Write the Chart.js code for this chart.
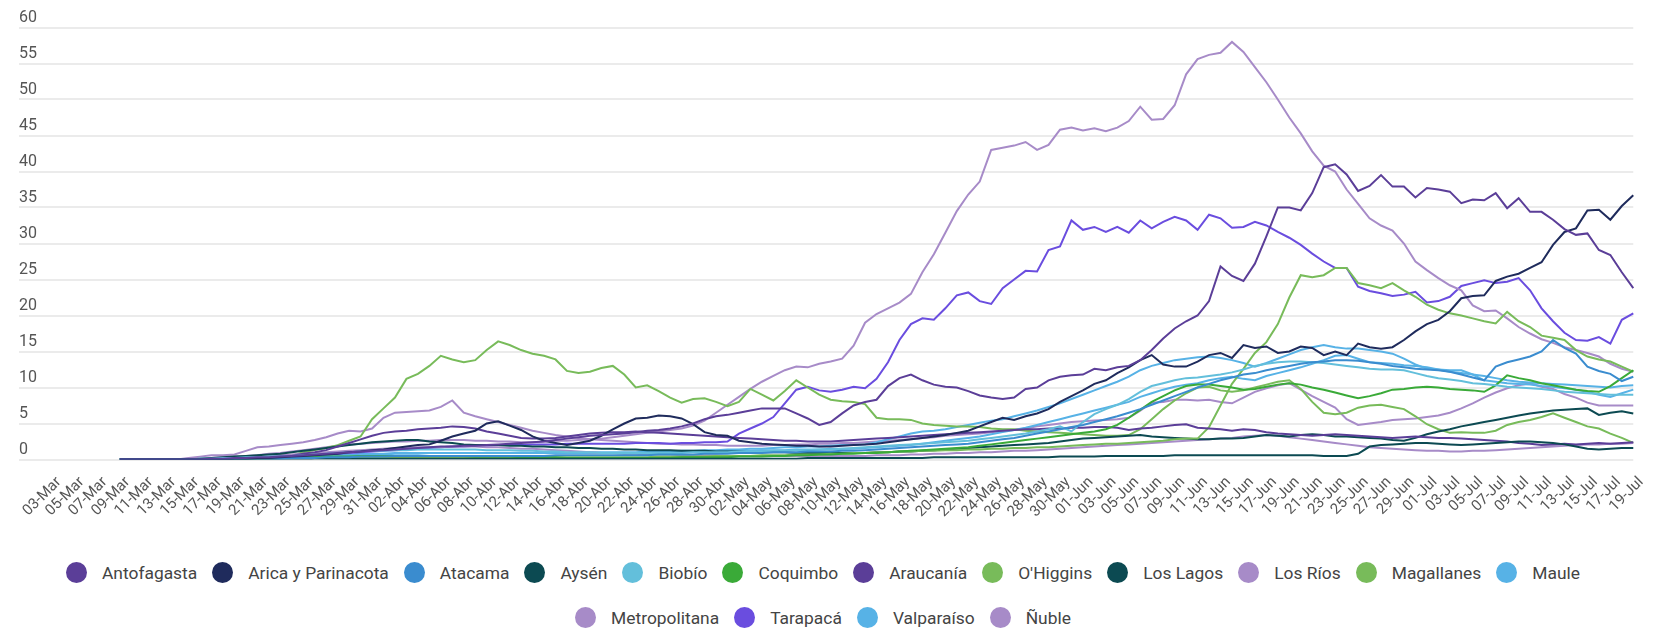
<!DOCTYPE html>
<html>
<head>
<meta charset="utf-8">
<script src="https://cdn.jsdelivr.net/npm/chart.js@4.4.1/dist/chart.umd.min.js"></script>
<style>
    html, body { margin: 0; padding: 0; background: #fff; }
    body { width: 1660px; height: 629px; position: relative; overflow: hidden; }
    #myChart { position: absolute; left: 0; top: 0; }
    #legend {
        position: absolute; top: 550px; left: 43px; width: 1560px;
        display: flex; flex-wrap: wrap; justify-content: center; column-gap: 15px;
        font-family: Roboto, sans-serif; font-size: 17.4px; color: #444;
    }
    #legend .item { display: flex; align-items: center; height: 45px; white-space: nowrap; }
    #legend .dot { width: 21px; height: 21px; border-radius: 50%; margin-right: 15px; }
</style>
</head>
<body>
<canvas id="myChart" width="1660" height="548"></canvas>
<div id="legend"></div>
<script>
// Dates on the x axis (03-Mar .. 19-Jul)
const dates = [
    '03-Mar','04-Mar','05-Mar','06-Mar','07-Mar','08-Mar','09-Mar','10-Mar','11-Mar','12-Mar',
    '13-Mar','14-Mar','15-Mar','16-Mar','17-Mar','18-Mar','19-Mar','20-Mar','21-Mar','22-Mar',
    '23-Mar','24-Mar','25-Mar','26-Mar','27-Mar','28-Mar','29-Mar','30-Mar','31-Mar',
    '01-Abr','02-Abr','03-Abr','04-Abr','05-Abr','06-Abr','07-Abr','08-Abr','09-Abr','10-Abr',
    '11-Abr','12-Abr','13-Abr','14-Abr','15-Abr','16-Abr','17-Abr','18-Abr','19-Abr','20-Abr',
    '21-Abr','22-Abr','23-Abr','24-Abr','25-Abr','26-Abr','27-Abr','28-Abr','29-Abr','30-Abr',
    '01-May','02-May','03-May','04-May','05-May','06-May','07-May','08-May','09-May','10-May',
    '11-May','12-May','13-May','14-May','15-May','16-May','17-May','18-May','19-May','20-May',
    '21-May','22-May','23-May','24-May','25-May','26-May','27-May','28-May','29-May','30-May','31-May',
    '01-Jun','02-Jun','03-Jun','04-Jun','05-Jun','06-Jun','07-Jun','08-Jun','09-Jun','10-Jun',
    '11-Jun','12-Jun','13-Jun','14-Jun','15-Jun','16-Jun','17-Jun','18-Jun','19-Jun','20-Jun',
    '21-Jun','22-Jun','23-Jun','24-Jun','25-Jun','26-Jun','27-Jun','28-Jun','29-Jun','30-Jun',
    '01-Jul','02-Jul','03-Jul','04-Jul','05-Jul','06-Jul','07-Jul','08-Jul','09-Jul','10-Jul',
    '11-Jul','12-Jul','13-Jul','14-Jul','15-Jul','16-Jul','17-Jul','18-Jul','19-Jul'
];

const yTicks = [0, 5, 10, 15, 20, 25, 30, 35, 40, 45, 50, 55, 60];

const antofagasta = [null,null,null,null,null,null,
    0,0,0,0,
    0,0,0,0,0.1,0.1,0.2,0.2,0.3,0.3,
    0.4,0.5,0.6,0.7,0.8,0.9,1.0,1.1,1.2,1.3,
    1.4,1.5,1.6,1.7,1.8,1.8,1.9,1.9,2.0,2.1,
    2.2,2.3,2.4,2.5,2.7,2.9,3.1,3.3,3.4,3.5,
    3.6,3.8,4.0,4.1,4.3,4.6,5.0,5.6,6.0,6.2,
    6.5,6.8,7.1,7.1,7.1,6.4,5.7,4.8,5.2,6.4,
    7.5,8.0,8.3,10.2,11.3,11.8,11.0,10.4,10.1,10.0,
    9.5,8.9,8.6,8.4,8.6,9.8,10.0,11.0,11.5,11.7,
    11.8,12.6,12.4,12.8,13.0,13.8,15.2,16.8,18.2,19.2,
    20.0,22.0,26.8,25.5,24.8,27.2,31.0,35.0,35.0,34.6,
    37.0,40.6,41.0,39.6,37.3,38.0,39.5,37.9,37.9,36.4,
    37.7,37.5,37.2,35.6,36.1,36.0,37.0,34.9,36.3,34.4,
    34.4,33.3,32.0,31.2,31.4,29.1,28.4,26.0,23.8];

const arica = [null,null,null,null,null,null,
    0,0,0,0,
    0,0,0,0,0,0,0.1,0.1,0.2,0.2,
    0.3,0.4,0.5,0.6,0.7,0.8,1.0,1.1,1.3,1.4,
    1.6,1.8,2.0,2.1,2.6,3.2,3.6,4.0,5.0,5.3,
    4.7,4.1,3.2,2.6,2.3,2.0,2.3,2.6,3.3,4.2,
    5.0,5.7,5.8,6.1,6.0,5.7,4.9,3.8,3.4,3.3,
    2.6,2.4,2.2,2.1,2.0,1.9,1.9,1.8,1.8,1.9,
    2.0,2.1,2.2,2.4,2.6,2.8,3.0,3.2,3.4,3.7,
    4.0,4.6,5.2,5.8,5.5,6.0,6.4,7.0,8.0,8.8,
    9.6,10.5,11.0,12.0,12.8,13.8,14.5,13.2,12.9,12.9,
    13.6,14.5,14.8,14.1,15.9,15.5,15.7,14.8,15.0,15.7,
    15.5,14.5,15.0,14.5,16.1,15.6,15.4,15.6,16.6,17.8,
    18.8,19.4,20.6,22.4,22.7,22.8,24.8,25.4,25.8,26.6,
    27.4,29.8,31.6,32.1,34.6,34.7,33.3,35.2,36.7];

const atacama = [null,null,null,null,null,null,
    0,0,0,0,
    0,0,0,0,0,0,0,0.1,0.1,0.1,
    0.1,0.2,0.2,0.2,0.3,0.3,0.3,0.4,0.4,0.4,
    0.5,0.5,0.5,0.5,0.5,0.5,0.5,0.5,0.5,0.5,
    0.5,0.5,0.5,0.5,0.6,0.6,0.6,0.6,0.6,0.6,
    0.6,0.6,0.6,0.7,0.7,0.7,0.7,0.8,0.8,0.8,
    0.9,0.9,0.9,1.0,1.0,1.0,1.1,1.1,1.1,1.2,
    1.2,1.3,1.4,1.5,1.6,1.7,1.8,1.9,2.0,2.1,
    2.2,2.4,2.6,2.8,3.0,3.3,3.6,3.9,4.2,4.5,
    4.8,5.2,5.6,6.0,6.5,7.0,7.6,8.2,8.8,9.4,
    10.0,10.5,11.0,11.4,11.8,12.0,12.4,12.7,13.0,13.3,
    13.5,13.6,13.8,13.8,13.7,13.5,13.3,13.0,12.8,12.6,
    12.5,12.4,12.2,11.8,11.4,11.0,12.9,13.5,13.9,14.3,
    15.0,16.6,15.5,14.7,12.9,12.3,11.9,10.9,11.5];

const aysen = [null,null,null,null,null,null,
    0,0,0,0,
    0,0,0,0,0,0,0,0,0,0,
    0,0,0,0.1,0.1,0.1,0.1,0.1,0.1,0.1,
    0.1,0.1,0.1,0.1,0.1,0.1,0.1,0.1,0.1,0.1,
    0.1,0.1,0.1,0.1,0.1,0.1,0.1,0.1,0.1,0.1,
    0.1,0.1,0.1,0.1,0.1,0.1,0.1,0.1,0.1,0.1,
    0.1,0.1,0.1,0.1,0.1,0.1,0.2,0.2,0.2,0.2,
    0.2,0.2,0.2,0.2,0.2,0.2,0.2,0.3,0.3,0.3,
    0.3,0.3,0.3,0.3,0.3,0.3,0.3,0.3,0.4,0.4,
    0.4,0.4,0.5,0.5,0.5,0.5,0.5,0.5,0.6,0.6,
    0.6,0.6,0.6,0.6,0.6,0.6,0.6,0.6,0.6,0.6,
    0.6,0.5,0.5,0.5,0.8,1.8,2.0,2.1,2.2,2.3,
    2.3,2.2,2.1,2.0,2.1,2.2,2.3,2.4,2.5,2.5,
    2.4,2.3,2.1,1.8,1.5,1.4,1.5,1.6,1.6];

const biobio = [null,null,null,null,null,null,
    0,0,0,0,
    0,0,0,0.1,0.1,0.2,0.2,0.3,0.3,0.4,
    0.4,0.5,0.6,0.7,0.8,0.9,1.0,1.1,1.2,1.2,
    1.3,1.3,1.4,1.4,1.4,1.4,1.4,1.4,1.3,1.3,
    1.3,1.2,1.2,1.1,1.1,1.0,1.0,1.0,0.9,0.9,
    0.9,0.9,0.9,0.9,0.9,0.9,1.0,1.0,1.0,1.0,
    1.1,1.1,1.1,1.2,1.2,1.3,1.3,1.4,1.4,1.5,
    1.6,1.7,1.8,1.9,2.0,2.1,2.2,2.3,2.4,2.5,
    2.6,2.8,3.0,3.2,3.4,3.6,3.9,4.2,4.6,3.9,
    5.2,6.3,7.0,7.6,8.4,9.4,10.2,10.6,11.0,11.3,
    11.4,11.6,11.8,12.1,12.5,13.0,13.3,13.5,13.6,13.6,
    13.5,13.4,13.2,13.0,12.8,12.6,12.5,12.5,12.4,12.0,
    11.6,11.3,11.1,10.9,10.6,10.5,10.3,10.1,10.0,9.9,
    9.8,9.6,9.4,9.3,9.2,9.1,9.0,9.0,9.0];

const coquimbo = [null,null,null,null,null,null,
    0,0,0,0,
    0,0,0,0,0,0.1,0.1,0.1,0.2,0.2,
    0.2,0.3,0.3,0.3,0.4,0.4,0.4,0.5,0.5,0.5,
    0.5,0.5,0.5,0.5,0.5,0.5,0.5,0.4,0.4,0.4,
    0.4,0.3,0.3,0.3,0.3,0.2,0.2,0.2,0.2,0.2,
    0.2,0.2,0.2,0.2,0.2,0.3,0.3,0.3,0.3,0.3,
    0.4,0.4,0.4,0.5,0.5,0.6,0.6,0.7,0.7,0.8,
    0.8,0.9,0.9,1.0,1.1,1.2,1.3,1.4,1.5,1.6,
    1.7,1.9,2.1,2.3,2.5,2.7,2.9,3.1,3.3,3.5,
    3.7,3.9,4.2,4.8,5.8,6.9,8.0,8.8,9.6,10.2,
    10.4,10.4,10.2,10.0,9.7,9.8,10.1,10.4,10.6,10.4,
    10.0,9.7,9.3,8.9,8.5,8.8,9.2,9.7,9.8,10.0,
    10.1,10.0,9.8,9.7,9.6,9.4,10.3,11.7,11.3,11.0,
    10.6,10.3,10.0,9.7,9.5,9.4,10.2,11.3,12.4];

const araucania = [null,null,null,null,null,null,
    0,0,0,0,
    0,0,0,0,0.1,0.1,0.2,0.2,0.3,0.3,
    0.4,0.5,0.8,1.0,1.3,1.8,2.3,2.8,3.3,3.7,
    3.9,4.0,4.2,4.3,4.4,4.6,4.5,4.3,3.9,3.6,
    3.3,3.0,2.9,2.9,3.0,3.2,3.4,3.6,3.7,3.8,
    3.8,3.9,3.8,3.7,3.6,3.5,3.4,3.3,3.2,3.1,
    3.0,2.9,2.8,2.7,2.6,2.6,2.5,2.5,2.5,2.6,
    2.7,2.8,2.9,3.0,3.1,3.2,3.3,3.4,3.5,3.6,
    3.7,3.8,3.9,4.0,4.1,4.2,4.2,4.3,4.3,4.4,
    4.4,4.5,4.5,4.4,4.1,4.3,4.4,4.6,4.8,4.9,
    4.4,4.3,4.2,4.0,4.2,4.1,3.8,3.6,3.5,3.4,
    3.3,3.4,3.5,3.4,3.3,3.2,3.1,3.0,3.1,3.2,
    3.1,3.0,3.0,2.9,2.8,2.7,2.6,2.5,2.3,2.2,
    2.0,2.1,2.2,2.1,2.2,2.3,2.2,2.3,2.4];

const ohiggins = [null,null,null,null,null,null,
    0,0,0,0,
    0,0,0,0,0,0,0.1,0.1,0.1,0.1,
    0.2,0.2,0.2,0.2,0.3,0.3,0.3,0.3,0.3,0.3,
    0.3,0.3,0.3,0.3,0.3,0.3,0.3,0.3,0.3,0.3,
    0.3,0.3,0.3,0.3,0.3,0.3,0.3,0.3,0.3,0.3,
    0.3,0.3,0.3,0.4,0.4,0.4,0.4,0.4,0.5,0.5,
    0.5,0.5,0.6,0.6,0.6,0.7,0.7,0.7,0.8,0.8,
    0.9,0.9,1.0,1.0,1.1,1.1,1.2,1.2,1.3,1.3,
    1.4,1.4,1.5,1.5,1.6,1.6,1.7,1.7,1.8,1.9,
    2.0,2.1,2.2,2.2,2.3,2.4,2.5,2.6,2.8,2.9,
    2.9,4.5,7.5,10.5,12.6,14.8,16.3,18.8,22.5,25.6,
    25.3,25.6,26.6,26.6,24.5,24.2,23.8,24.5,23.5,22.6,
    21.5,20.8,20.3,20.0,19.6,19.2,18.9,20.5,19.2,18.4,
    17.2,16.9,16.6,15.2,14.3,13.9,13.6,12.9,12.2];

const losLagos = [null,null,null,null,null,null,
    0,0,0,0,
    0,0,0,0.1,0.2,0.3,0.4,0.5,0.6,0.7,
    0.8,1.0,1.2,1.4,1.6,1.8,2.0,2.2,2.4,2.5,
    2.6,2.7,2.7,2.5,2.4,2.3,2.1,2.0,2.0,2.0,
    1.9,1.9,1.8,1.8,1.7,1.7,1.6,1.6,1.5,1.5,
    1.4,1.4,1.3,1.3,1.3,1.2,1.2,1.2,1.1,1.1,
    1.1,1.0,1.0,1.0,1.0,0.9,0.9,0.9,0.9,0.9,
    0.9,0.9,1.0,1.0,1.1,1.1,1.2,1.3,1.4,1.5,
    1.6,1.7,1.8,1.9,2.0,2.1,2.2,2.3,2.5,2.7,
    2.9,3.0,3.1,3.2,3.3,3.4,3.2,3.1,3.0,2.9,
    2.8,2.8,2.9,2.9,3.0,3.2,3.4,3.3,3.2,3.4,
    3.5,3.4,3.2,3.2,3.1,3.0,2.9,2.7,2.6,3.0,
    3.5,3.9,4.2,4.6,4.9,5.2,5.5,5.8,6.1,6.4,
    6.6,6.8,6.9,7.0,7.1,6.2,6.5,6.7,6.4];

const losRios = [null,null,null,null,null,null,
    0,0,0,0,
    0,0,0,0,0.1,0.1,0.2,0.3,0.4,0.5,
    0.6,0.7,0.8,0.9,1.0,1.1,1.2,1.3,1.4,1.5,
    1.6,1.6,1.7,1.7,1.7,1.8,1.8,1.8,1.7,1.7,
    1.6,1.5,1.5,1.4,1.3,1.2,1.1,1.0,0.9,0.9,
    0.8,0.8,0.7,0.7,0.7,0.6,0.6,0.6,0.6,0.5,
    0.5,0.5,0.5,0.5,0.5,0.5,0.5,0.5,0.5,0.5,
    0.5,0.5,0.6,0.6,0.6,0.7,0.7,0.8,0.8,0.9,
    0.9,1.0,1.0,1.1,1.2,1.2,1.3,1.4,1.5,1.6,
    1.7,1.8,1.9,2.0,2.1,2.2,2.3,2.4,2.5,2.6,
    2.7,2.8,2.9,3.0,3.2,3.3,3.4,3.3,3.1,2.9,
    2.7,2.5,2.3,2.1,1.9,1.7,1.6,1.5,1.4,1.3,
    1.2,1.2,1.1,1.1,1.2,1.2,1.3,1.4,1.5,1.6,
    1.7,1.8,1.9,2.0,2.1,2.1,2.2,2.2,2.3];

const magallanes = [null,null,null,null,null,null,
    0,0,0,0,
    0,0,0,0,0,0,0,0.1,0.1,0.2,
    0.3,0.5,1.0,1.3,1.6,2.0,2.6,3.2,5.6,7.1,
    8.6,11.2,11.9,13.0,14.4,13.9,13.5,13.8,15.2,16.4,
    15.9,15.2,14.7,14.4,13.9,12.3,12.0,12.2,12.7,13.0,
    11.8,10.0,10.3,9.5,8.6,7.9,8.4,8.5,8.0,7.4,
    8.0,9.8,9.0,8.2,9.5,11.0,10.0,9.0,8.3,8.1,
    8.0,7.7,5.8,5.6,5.6,5.5,5.0,4.8,4.7,4.6,
    4.6,4.5,4.3,4.2,4.2,4.0,3.9,3.8,3.7,3.6,
    3.5,3.4,3.3,3.3,3.4,4.2,5.6,7.0,8.2,9.2,
    10.0,10.1,9.6,9.4,9.6,10.0,10.4,10.8,11.0,9.8,
    8.0,6.5,6.3,6.5,7.2,7.5,7.6,7.3,7.0,6.0,
    4.9,4.2,3.7,3.8,3.7,3.7,4.0,4.8,5.2,5.5,
    5.9,6.4,5.8,5.2,4.6,4.3,3.6,3.0,2.3];

const maule = [null,null,null,null,null,null,
    0,0,0,0,
    0,0,0,0,0,0.1,0.1,0.1,0.2,0.2,
    0.3,0.3,0.4,0.4,0.5,0.5,0.6,0.6,0.7,0.7,
    0.8,0.8,0.8,0.9,0.9,0.9,0.9,0.9,0.9,0.9,
    0.9,0.9,0.9,0.9,0.9,0.9,0.9,0.9,0.9,0.9,
    0.9,0.9,1.0,1.0,1.0,1.0,1.1,1.1,1.1,1.2,
    1.2,1.2,1.3,1.3,1.3,1.4,1.4,1.4,1.5,1.5,
    1.5,1.6,1.7,1.8,1.9,2.0,2.2,2.4,2.6,2.8,
    3.0,3.2,3.5,3.8,4.1,4.4,4.8,5.2,5.6,6.0,
    6.4,6.8,7.2,7.6,8.0,8.7,9.2,9.7,10.1,10.4,
    10.6,11.0,11.3,11.5,11.2,11.0,11.6,12.0,12.4,12.8,
    13.3,13.8,14.4,14.5,14.0,13.5,13.4,13.3,13.1,13.0,
    12.8,12.5,12.2,12.0,11.8,11.6,11.3,11.0,10.8,10.7,
    10.6,10.5,10.4,10.3,10.2,10.1,10.0,10.2,10.3];

const metropolitana = [null,null,null,null,null,null,
    0,0,0,0,
    0,0,0.1,0.1,0.2,0.3,0.4,0.5,0.6,0.8,
    0.9,1.1,1.3,1.5,1.7,1.9,2.1,2.2,2.3,2.4,
    2.5,2.5,2.6,2.6,2.7,2.7,2.7,2.6,2.6,2.5,
    2.5,2.4,2.4,2.5,2.6,2.6,2.7,2.8,2.9,3.1,
    3.3,3.5,3.7,3.9,4.1,4.3,4.7,5.4,6.5,7.6,
    8.7,9.8,10.8,11.6,12.4,12.9,12.8,13.3,13.6,14.0,
    15.8,19.0,20.2,21.0,21.8,23.0,26.0,28.5,31.5,34.5,
    36.8,38.6,43.0,43.3,43.6,44.1,43.0,43.7,45.8,46.1,
    45.7,46.0,45.6,46.1,47.0,49.0,47.2,47.3,49.2,53.5,
    55.6,56.2,56.5,58.0,56.6,54.5,52.4,50.0,47.5,45.3,
    42.8,40.8,40.0,37.5,35.5,33.5,32.5,31.8,30.0,27.5,
    26.3,25.2,24.2,23.5,21.4,20.6,20.7,19.6,18.4,17.5,
    16.7,16.2,15.6,15.2,14.8,14.3,13.3,12.6,12.2];

const tarapaca = [null,null,null,null,null,null,
    0,0,0,0,
    0,0,0,0,0,0.1,0.1,0.2,0.2,0.3,
    0.3,0.4,0.5,0.6,0.7,0.8,0.9,1.0,1.1,1.2,
    1.3,1.4,1.5,1.6,1.7,1.8,1.8,1.9,1.9,2.0,
    2.0,2.0,2.1,2.1,2.1,2.2,2.2,2.2,2.2,2.2,
    2.2,2.3,2.3,2.3,2.2,2.3,2.3,2.4,2.4,2.5,
    3.6,4.3,5.0,5.9,7.8,9.7,10.1,9.6,9.4,9.7,
    10.1,9.9,11.2,13.5,16.6,18.8,19.6,19.4,21.0,22.8,
    23.2,22.0,21.6,23.8,25.0,26.2,26.1,29.1,29.6,33.2,
    31.9,32.3,31.6,32.3,31.5,33.2,32.1,33.0,33.7,33.2,
    31.9,34.0,33.5,32.2,32.3,33.0,32.5,31.6,30.8,29.8,
    28.6,27.5,26.6,26.6,24.0,23.4,23.1,22.7,22.9,23.3,
    21.8,22.0,22.6,24.1,24.5,24.9,24.5,24.7,25.2,23.5,
    21.0,19.2,17.6,16.6,16.5,17.0,16.1,19.4,20.3];

const valparaiso = [null,null,null,null,null,null,
    0,0,0,0,
    0,0,0,0.1,0.1,0.2,0.2,0.3,0.3,0.4,
    0.4,0.5,0.5,0.6,0.6,0.7,0.7,0.8,0.8,0.8,
    0.9,0.9,0.9,0.9,0.9,0.9,0.9,0.9,0.9,0.9,
    0.9,0.9,0.9,0.9,0.9,0.9,0.9,1.0,1.0,1.0,
    1.0,1.0,1.1,1.1,1.1,1.2,1.2,1.3,1.3,1.4,
    1.4,1.5,1.5,1.6,1.7,1.7,1.8,1.8,1.9,2.0,
    2.0,2.1,2.4,2.8,3.2,3.6,3.9,4.0,4.2,4.5,
    4.8,5.1,5.4,5.6,6.0,6.4,6.8,7.3,7.8,8.4,
    9.0,9.6,10.2,10.8,11.5,12.4,13.0,13.4,13.8,14.0,
    14.2,14.3,14.1,13.8,13.4,12.9,13.4,14.0,14.6,15.2,
    15.6,15.9,15.6,15.4,15.4,15.2,15.0,14.7,14.0,13.2,
    12.6,12.5,12.4,12.4,11.8,11.0,10.8,10.6,10.5,10.4,
    10.2,10.1,9.9,9.7,9.4,9.0,8.7,9.2,9.7];

const nuble = [null,null,null,null,null,null,
    0,0,0,0,
    0,0,0.2,0.4,0.6,0.6,0.7,1.2,1.7,1.8,
    2.0,2.2,2.4,2.7,3.1,3.6,4.0,3.9,4.3,5.8,
    6.5,6.6,6.7,6.8,7.3,8.2,6.5,6.0,5.6,5.2,
    4.8,4.4,4.0,3.7,3.4,3.2,3.0,2.8,2.7,2.6,
    2.5,2.4,2.3,2.2,2.2,2.1,2.1,2.0,2.0,1.9,
    1.9,1.9,1.9,2.0,2.0,2.1,2.1,2.2,2.2,2.3,
    2.3,2.4,2.5,2.6,2.7,2.8,3.0,3.1,3.3,3.4,
    3.5,3.6,3.8,4.0,4.1,4.3,4.6,4.8,5.0,5.2,
    5.3,5.4,5.5,5.6,5.8,6.8,7.9,8.0,8.3,8.3,
    8.2,8.3,8.0,7.8,8.6,9.4,9.9,10.3,10.6,9.7,
    8.8,8.0,7.2,5.6,4.8,5.0,5.2,5.5,5.6,5.7,
    5.9,6.1,6.5,7.1,7.8,8.6,9.3,9.9,10.3,10.6,
    10.1,9.8,9.1,8.6,7.9,7.5,7.5,7.5,7.5];

const regions = ['Antofagasta', 'Arica y Parinacota', 'Atacama', 'Aysén', 'Biobío', 'Coquimbo',
    'Araucanía', "O'Higgins", 'Los Lagos', 'Los Ríos', 'Magallanes', 'Maule',
    'Metropolitana', 'Tarapacá', 'Valparaíso', 'Ñuble'];
const series = [antofagasta, arica, atacama, aysen, biobio, coquimbo,
    araucania, ohiggins, losLagos, losRios, magallanes, maule,
    metropolitana, tarapaca, valparaiso, nuble];
const colors = ['#5b3e98', '#1f2b5c', '#3a8ccf', '#0c4a52', '#63bfdb', '#3aaa38',
    '#5b3e98', '#78bb5a', '#0c4a52', '#a78bc8', '#78bb5a', '#57b2e6',
    '#a78bc8', '#6a4ddf', '#57b2e6', '#a78bc8'];

let chart;

// Build the line chart
function initializeChart() {
    const ctx = document.getElementById('myChart').getContext('2d');
    chart = new Chart(ctx, {
        type: 'line',
        data: {
            labels: dates,
            datasets: regions.map((name, i) => ({
                label: name,
                data: series[i],
                borderColor: colors[i],
                backgroundColor: colors[i],
                borderWidth: 2,
                pointRadius: 0,
                tension: 0,
                fill: false
            }))
        },
        options: {
            responsive: false,
            animation: false,
            devicePixelRatio: 1,
            layout: { padding: { left: 19, right: 13, top: 27.5, bottom: 0 } },
            plugins: {
                legend: { display: false },
                tooltip: { enabled: false }
            },
            scales: {
                x: {
                    grid: { display: false, drawTicks: false },
                    border: { display: false },
                    ticks: {
                        autoSkip: false,
                        minRotation: 45,
                        maxRotation: 45,
                        padding: 14,
                        labelOffset: 8,
                        color: '#555',
                        font: { family: 'Roboto', size: 15 },
                        callback: (v, i) => (i % 2 === 0 ? dates[i] : null)
                    },
                    afterFit: (scale) => { scale.height = 88.5; }
                },
                y: {
                    min: yTicks[0],
                    max: yTicks[yTicks.length - 1],
                    border: { display: false },
                    grid: { color: '#ebebeb', lineWidth: 2, drawTicks: true, tickLength: 32 },
                    ticks: {
                        stepSize: 5,
                        crossAlign: 'far',
                        labelOffset: -10,
                        padding: 0,
                        color: '#555',
                        font: { family: 'Roboto', size: 16 }
                    },
                    afterFit: (scale) => { scale.width = 32; }
                }
            }
        }
    });
}

// HTML legend with round markers, two centred rows
function buildLegend() {
    const box = document.getElementById('legend');
    chart.data.datasets.forEach(ds => {
        const item = document.createElement('span');
        item.className = 'item';
        const dot = document.createElement('span');
        dot.className = 'dot';
        dot.style.background = ds.borderColor;
        item.appendChild(dot);
        item.appendChild(document.createTextNode(ds.label));
        box.appendChild(item);
    });
}

initializeChart();
buildLegend();
</script>
</body>
</html>
